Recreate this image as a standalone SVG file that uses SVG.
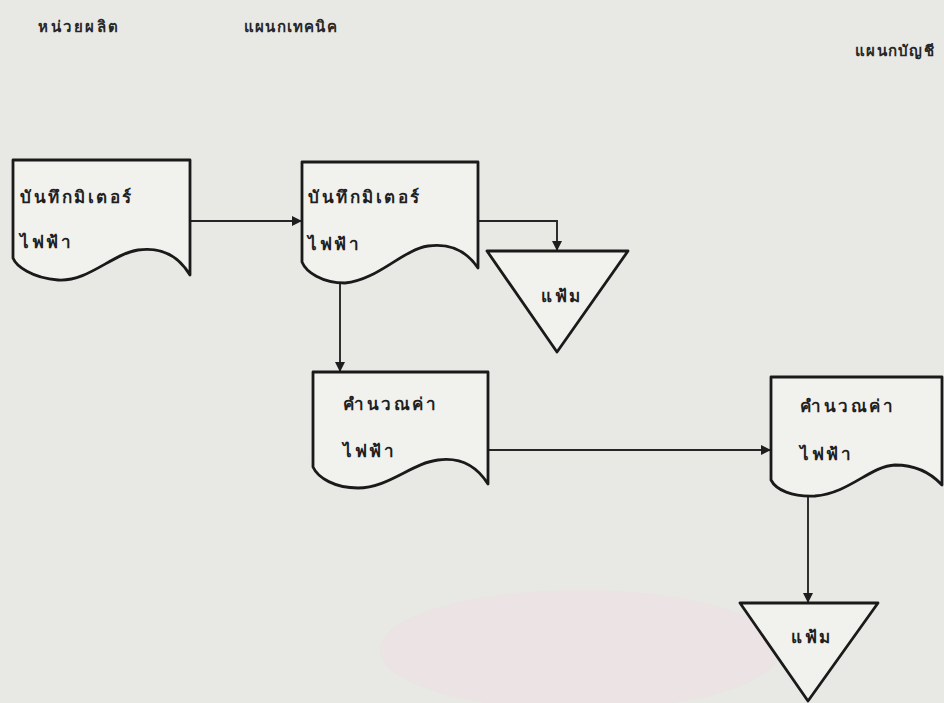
<svg xmlns="http://www.w3.org/2000/svg" width="944" height="703" viewBox="0 0 944 703">
<defs>
<style>
.bg{fill:#e8e8e4}
.shape{fill:#f1f1ee;stroke:#1a1a1a;stroke-width:2.8;stroke-linejoin:round}
.conn{fill:none;stroke:#262626;stroke-width:1.9}
.t{font-family:"Noto Sans","DejaVu Sans",sans-serif;font-weight:bold;fill:#1f1f1f;font-size:17px;letter-spacing:2.5px}
.h{font-family:"Noto Sans","DejaVu Sans",sans-serif;font-weight:bold;fill:#262626;font-size:15px;letter-spacing:2.5px}
</style>
<marker id="arr" markerWidth="10" markerHeight="10" refX="9" refY="5" orient="auto" markerUnits="userSpaceOnUse">
<path d="M0,0 L10,5 L0,10 Z" fill="#1e1e1e"/>
</marker>
</defs>
<rect class="bg" x="0" y="0" width="944" height="703"/>
<ellipse cx="580" cy="650" rx="200" ry="60" fill="#eddde3" opacity="0.5"/>
<g id="headers">
<text class="h" x="38" y="32">หน่วยผลิต</text>
<text class="h" x="244" y="32" style="letter-spacing:1.2px">แผนกเทคนิค</text>
<text class="h" x="855" y="56" style="letter-spacing:1.3px">แผนกบัญชี</text>
</g>
<g id="connectors">
<line class="conn" x1="190" y1="221" x2="301" y2="221" marker-end="url(#arr)"/>
<polyline class="conn" points="478,221 557,221 557,250" marker-end="url(#arr)"/>
<line class="conn" x1="340" y1="283" x2="340" y2="371" marker-end="url(#arr)"/>
<line class="conn" x1="488" y1="450" x2="770" y2="450" marker-end="url(#arr)"/>
<line class="conn" x1="808" y1="497" x2="808" y2="602" marker-end="url(#arr)"/>
</g>
<g id="doc1">
<path class="shape" d="M13,160 H190 V275 C178,255 160,247 138,250 C112,254 88,282 58,280 C32,278 16,266 13,258 Z"/>
<text class="t" x="20" y="203">บันทึกมิเตอร์</text>
<text class="t" x="20" y="248">ไฟฟ้า</text>
</g>
<g id="doc2">
<path class="shape" d="M302,162 H478 V268 C466,250 450,243 428,246 C402,250 378,280 345,283 C322,283 306,272 302,262 Z"/>
<text class="t" x="308" y="203">บันทึกมิเตอร์</text>
<text class="t" x="308" y="250">ไฟฟ้า</text>
</g>
<g id="doc3">
<path class="shape" d="M313,372 H488 V484 C476,465 460,457 438,460 C412,463 388,488 358,488 C335,488 318,478 313,467 Z"/>
<text class="t" x="343" y="410">คำนวณค่า</text>
<text class="t" x="343" y="457">ไฟฟ้า</text>
</g>
<g id="doc4">
<path class="shape" d="M771,377 H942 V485 C930,472 915,465 895,465 C870,466 850,493 815,496 C792,497 776,490 771,480 Z"/>
<text class="t" x="800" y="412">คำนวณค่า</text>
<text class="t" x="800" y="460">ไฟฟ้า</text>
</g>
<g id="file1">
<polygon class="shape" points="487,251 628,251 557,352"/>
<text class="t" x="541" y="302" font-size="15">แฟ้ม</text>
</g>
<g id="file2">
<polygon class="shape" points="740,603 878,603 808,701"/>
<text class="t" x="791" y="643" font-size="15">แฟ้ม</text>
</g>
</svg>
